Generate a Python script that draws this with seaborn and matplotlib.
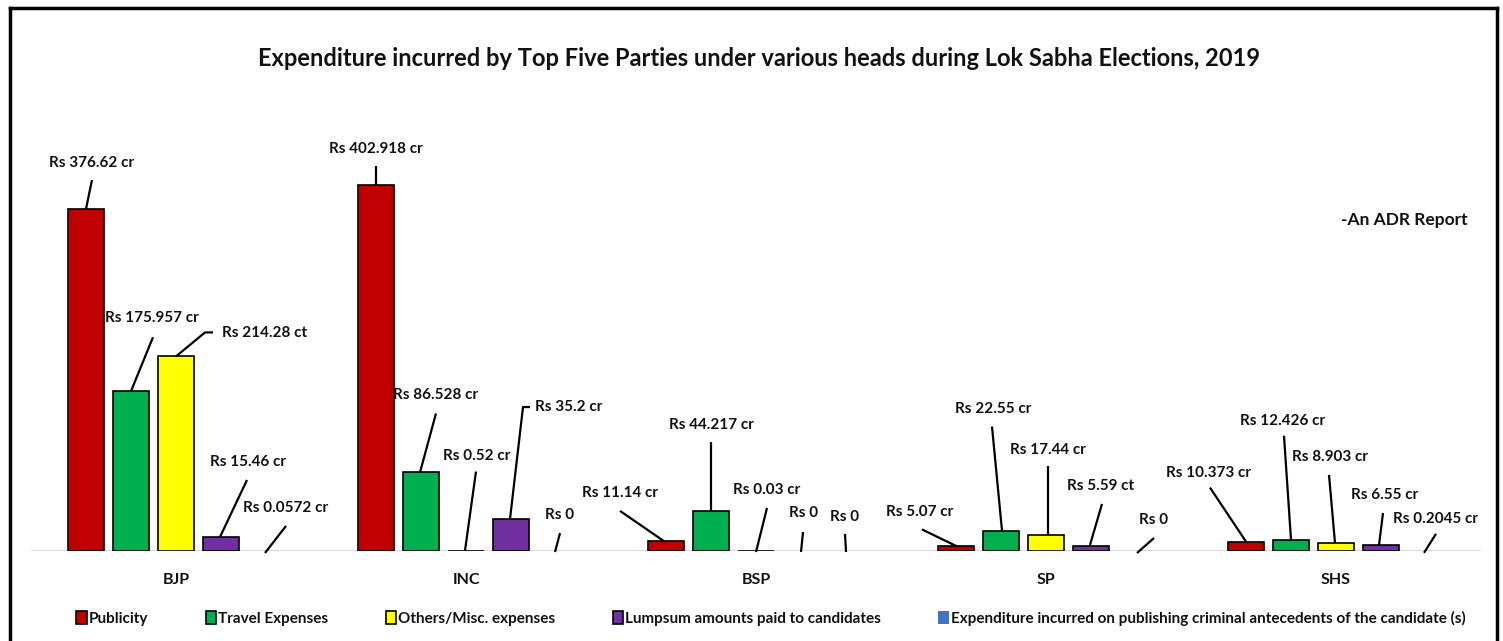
import matplotlib
matplotlib.use("Agg")
import matplotlib.pyplot as plt
import matplotlib.transforms as mtransforms
from matplotlib.lines import Line2D
import seaborn as sns
import pandas as pd

# ---------------- data ----------------
parties = ["BJP", "INC", "BSP", "SP", "SHS"]
heads = ["Publicity", "Travel Expenses", "Others/Misc. expenses",
         "Lumpsum amounts paid to candidates",
         "Expenditure incurred on publishing criminal antecedents of the candidate (s)"]
publicity = [376.62, 402.918, 11.14, 5.07, 10.373]
travel = [175.957, 86.528, 44.217, 22.55, 12.426]
others = [214.28, 0.52, 0.03, 17.44, 8.903]
lumpsum = [15.46, 35.2, 0, 5.59, 6.55]
criminal = [0.0572, 0, 0, 0, 0.2045]

publicity_labels = ["Rs 376.62 cr", "Rs 402.918 cr", "Rs 11.14 cr", "Rs 5.07 cr", "Rs 10.373 cr"]
travel_labels = ["Rs 175.957 cr", "Rs 86.528 cr", "Rs 44.217 cr", "Rs 22.55 cr", "Rs 12.426 cr"]
others_labels = ["Rs 214.28 ct", "Rs 0.52 cr", "Rs 0.03 cr", "Rs 17.44 cr", "Rs 8.903 cr"]
lumpsum_labels = ["Rs 15.46 cr", "Rs 35.2 cr", "Rs 0", "Rs 5.59 ct", "Rs 6.55 cr"]
criminal_labels = ["Rs 0.0572 cr", "Rs 0", "Rs 0", "Rs 0", "Rs 0.2045 cr"]

title = "Expenditure incurred by Top Five Parties under various heads during Lok Sabha Elections, 2019"
note = "-An ADR Report"

colors = ["#C00000", "#00B050", "#FFFF00", "#7030A0", "#4472C4"]

series = [publicity, travel, others, lumpsum, criminal]
series_labels = [publicity_labels, travel_labels, others_labels, lumpsum_labels, criminal_labels]

rows = []
for h, vals in zip(heads, series):
    for p, v in zip(parties, vals):
        rows.append({"party": p, "head": h, "value": v})
df = pd.DataFrame(rows)

# ---------------- layout (callout offsets in pixels) ----------------
# key: (series index, party index) -> (line start, line points, text offset, ha)
layout = {
    (0, 0): ((0, 0), [(6, 29)], (6, 46), "center"),
    (1, 0): ((0, 0), [(22, 54)], (21, 73), "center"),
    (2, 0): ((0, 0), [(29, 24), (37, 24)], (46, 23), "left"),
    (3, 0): ((-1, 0), [(26, 57)], (27, 75), "center"),
    (4, 0): ((-1, -2), [(20, 25)], (20, 43), "center"),

    (0, 1): ((0, 0), [(0, 19)], (0, 36), "center"),
    (1, 1): ((-1, 0), [(15, 59)], (15, 77), "center"),
    (2, 1): ((-1, 0), [(10, 79)], (11, 95), "center"),
    (3, 1): ((-1, 0), [(12, 112), (19, 112)], (24, 112), "left"),
    (4, 1): ((-1, -1), [(4, 18)], (4, 36), "center"),

    (0, 2): ((-1, -1), [(-46, 30)], (-46, 48), "center"),
    (1, 2): ((0, 0), [(0, 69)], (0, 86), "center"),
    (2, 2): ((0, -1), [(11, 43)], (11, 61), "center"),
    (3, 2): ((0, -1), [(2, 19)], (3, 38), "center"),
    (4, 2): ((0, -1), [(-1, 17)], (-1, 34), "center"),

    (0, 3): ((1, 0), [(-34, 17)], (-36, 34), "center"),
    (1, 3): ((1, 0), [(-9, 104)], (-8, 122), "center"),
    (2, 3): ((2, 0), [(2, 69)], (2, 85), "center"),
    (3, 3): ((-1, 1), [(11, 42)], (10, 60), "center"),
    (4, 3): ((1, -2), [(18, 13)], (18, 31), "center"),

    (0, 4): ((0, 0), [(-36, 54)], (-37, 69), "center"),
    (1, 4): ((0, 0), [(-7, 104)], (-8, 119), "center"),
    (2, 4): ((-1, 0), [(-7, 68)], (-6, 86), "center"),
    (3, 4): ((-2, 0), [(2, 32)], (4, 50), "center"),
    (4, 4): ((-2, -2), [(10, 17)], (9, 32), "center"),
}

FONT = ["Lato", "DejaVu Sans"]
sns.set_theme(style="white")
plt.rcParams["font.family"] = FONT
TXT = "#111111"

W, H = 1503, 641
fig = plt.figure(figsize=(W / 100, H / 100), dpi=100)
fig.patch.set_facecolor("white")

ax_left, ax_right = 31, 1481
ax_base, ax_top = 551, 100
ax = fig.add_axes([ax_left / W, (H - ax_base) / H, (ax_right - ax_left) / W, (ax_base - ax_top) / H])

sns.barplot(data=df, x="party", y="value", hue="head", hue_order=heads, order=parties,
            palette=colors, width=0.776, gap=0.22, edgecolor="black", linewidth=1.2,
            saturation=1, ax=ax, legend=True)

px_per_unit = 0.908
ax.set_ylim(0, (ax_base - ax_top) / px_per_unit)
ax.set_xlim(-0.5, len(parties) - 0.5)

for si, cont in enumerate(ax.containers):
    for bar in cont:
        bar.set_zorder(2)
        if si == 4 or bar.get_height() == 0:
            bar.set_linewidth(0)

for s in ["left", "top", "right", "bottom"]:
    ax.spines[s].set_visible(False)
ax.axhline(0, color="#D9D9D9", lw=1.5, zorder=1)
ax.set_yticks([])
ax.set_xlabel("")
ax.set_ylabel("")
ax.tick_params(axis="x", length=0, pad=16)
for t in ax.get_xticklabels():
    t.set_fontsize(11.5)
    t.set_fontweight("bold")
    t.set_color(TXT)

# callouts: leader lines in pixel offsets from each bar's top
P = 72 / 100.0
for si, cont in enumerate(ax.containers):
    for pi, bar in enumerate(cont):
        x = bar.get_x() + bar.get_width() / 2
        y = bar.get_height()
        (sx, sy), pts, (tx, ty), ha = layout[(si, pi)]
        chain = [(sx, sy)] + pts
        bx, by = ax.transData.transform((x, y))
        ln = Line2D([bx + c[0] for c in chain], [by + c[1] for c in chain],
                    color="black", lw=1.6, solid_capstyle="butt",
                    transform=mtransforms.IdentityTransform(), clip_on=False, zorder=3)
        ax.add_line(ln)
        ax.annotate(series_labels[si][pi], xy=(x, y), xycoords="data",
                    xytext=(tx * P, ty * P), textcoords="offset points",
                    ha=ha, va="center", fontsize=11, fontweight="bold",
                    color=TXT, annotation_clip=False)

# legend
handles, labels = ax.get_legend_handles_labels()
if ax.get_legend():
    ax.get_legend().remove()
leg = fig.legend(handles, labels, loc="center", bbox_to_anchor=(771 / W, (H - 618) / H),
                 ncol=5, frameon=False, handlelength=0.7, handleheight=0.95,
                 handletextpad=0.12, columnspacing=3.75,
                 prop=dict(family=FONT, size=11, weight="bold"))
for t in leg.get_texts():
    t.set_color(TXT)
leg.legend_handles[4].set_edgecolor("none")

# title and note
fig.text(759 / W, (H - 58) / H, title, ha="center", va="center", fontsize=17,
         fontweight="bold", color=TXT)
fig.text(1468 / W, (H - 220) / H, note, ha="right", va="center", fontsize=12.5,
         fontweight="bold", color=TXT)

# border
bl = dict(color="black", lw=2.5, solid_capstyle="projecting", transform=fig.transFigure)
fig.add_artist(Line2D([9.5 / W, 9.5 / W], [0, (H - 8) / H], **bl))
fig.add_artist(Line2D([9.5 / W, 1497 / W], [(H - 8) / H, (H - 8) / H], **bl))
fig.add_artist(Line2D([1497 / W, 1497 / W], [0, (H - 8) / H], **bl))

fig.savefig("out.png", dpi=100, facecolor="white")
